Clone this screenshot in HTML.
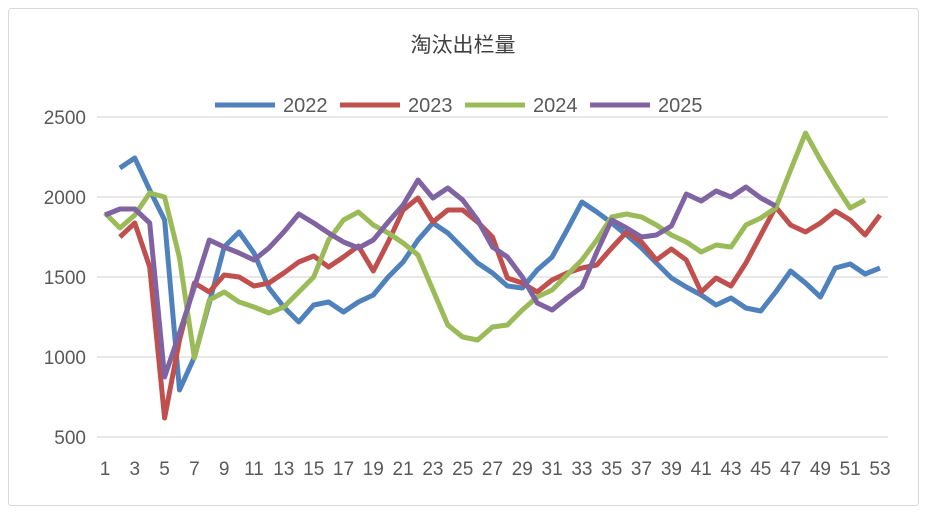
<!DOCTYPE html>
<html><head><meta charset="utf-8"><style>
body{margin:0;background:#fff;}
svg text{font-family:"Liberation Sans","Noto Sans CJK SC",sans-serif;fill:#595959;}
</style></head><body>
<svg width="928" height="515" xmlns="http://www.w3.org/2000/svg">
<rect x="8.5" y="8.5" width="910" height="497" rx="3" fill="#fff" stroke="#d9d9d9"/>
<text x="463" y="52" font-size="21" text-anchor="middle" style="fill:#404040">淘汰出栏量</text>
<g stroke="#d9d9d9" stroke-width="1.3">
<line x1="97" x2="888" y1="117" y2="117"/><line x1="97" x2="888" y1="197" y2="197"/>
<line x1="97" x2="888" y1="277" y2="277"/><line x1="97" x2="888" y1="357" y2="357"/>
<line x1="97" x2="888" y1="437" y2="437"/></g>
<g font-size="19" text-anchor="end">
<text x="86" y="124">2500</text><text x="86" y="204">2000</text><text x="86" y="284">1500</text>
<text x="86" y="364">1000</text><text x="86" y="444">500</text></g>
<g font-size="19" text-anchor="middle" id="xl"></g>
<g font-size="20">
<line x1="215" x2="275" y1="105" y2="105" stroke="#4f81bd" stroke-width="5"/><text x="283" y="112">2022</text>
<line x1="340" x2="400" y1="105" y2="105" stroke="#c0504d" stroke-width="5"/><text x="408" y="112">2023</text>
<line x1="465" x2="525" y1="105" y2="105" stroke="#9bbb59" stroke-width="5"/><text x="533" y="112">2024</text>
<line x1="590" x2="650" y1="105" y2="105" stroke="#8064a2" stroke-width="5"/><text x="658" y="112">2025</text>
</g>
<g id="lines" fill="none" stroke-width="5" stroke-linejoin="round"></g>
</svg>
<script>
var X=function(w){return 105+(w-1)*14.904;};
var xl=document.getElementById('xl'),s='';
for(var w=1;w<=53;w+=2)s+='<text x="'+X(w).toFixed(1)+'" y="475">'+w+'</text>';
xl.innerHTML=s;
var D=[
["#4f81bd",2,[168,158,190,220,390,357,303,247,232,253,288,307,322,305,302,312,302,295,277,262,240,223,233,248,263,273,286,288,270,257,230,202,212,223,235,248,263,278,287,295,305,298,308,311,292,271,283,297,268,264,274,268]],
["#c0504d",2,[237,223,267,418,340,283,292,275,277,286,283,273,262,256,267,257,246,271,242,210,198,222,210,210,222,237,278,283,292,280,273,268,265,248,232,242,260,249,260,292,278,286,263,235,207,225,232,223,211,220,235,215]],
["#9bbb59",1,[213,228,215,193,197,258,358,300,292,302,307,313,307,292,277,240,220,212,225,233,243,255,290,325,337,340,327,325,310,297,290,275,260,240,217,214,217,225,235,242,252,245,247,225,218,208,170,133,160,185,208,200]],
["#8064a2",1,[215,209,209,223,377,333,287,240,247,253,260,248,232,214,223,233,242,248,240,222,205,180,198,188,200,220,247,257,277,303,310,298,287,252,220,228,237,235,226,194,201,191,197,187,198,206]]
];
var g='';
D.forEach(function(d){var p=d[2].map(function(y,i){return X(d[1]+i).toFixed(1)+','+y;}).join(' ');
g+='<polyline stroke="'+d[0]+'" points="'+p+'"/>';});
document.getElementById('lines').innerHTML=g;
</script>
</body></html>
